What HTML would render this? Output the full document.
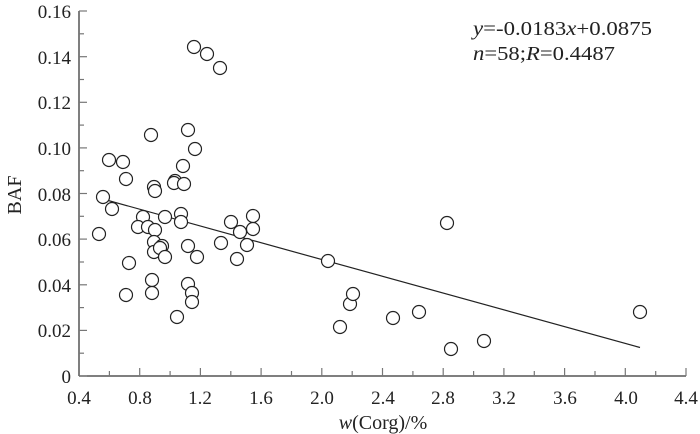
<!DOCTYPE html>
<html><head><style>body{margin:0;background:#fff}svg{display:block}</style></head>
<body>
<svg width="700" height="434" viewBox="0 0 700 434" xmlns="http://www.w3.org/2000/svg" font-family="Liberation Serif, serif" font-size="19" fill="#222">
<g stroke="#555" stroke-width="1.5" fill="none">
<line x1="79" y1="11" x2="79" y2="376"/>
<line x1="79" y1="376" x2="686" y2="376"/>
</g>
<g stroke="#777" stroke-width="1.2">
<line x1="79" y1="376" x2="87" y2="376"/><line x1="79" y1="353.2" x2="84" y2="353.2"/>
<line x1="79" y1="330.4" x2="87" y2="330.4"/><line x1="79" y1="307.6" x2="84" y2="307.6"/>
<line x1="79" y1="284.8" x2="87" y2="284.8"/><line x1="79" y1="262" x2="84" y2="262"/>
<line x1="79" y1="239.1" x2="87" y2="239.1"/><line x1="79" y1="216.3" x2="84" y2="216.3"/>
<line x1="79" y1="193.5" x2="87" y2="193.5"/><line x1="79" y1="170.7" x2="84" y2="170.7"/>
<line x1="79" y1="147.9" x2="87" y2="147.9"/><line x1="79" y1="125.1" x2="84" y2="125.1"/>
<line x1="79" y1="102.3" x2="87" y2="102.3"/><line x1="79" y1="79.5" x2="84" y2="79.5"/>
<line x1="79" y1="56.7" x2="87" y2="56.7"/><line x1="79" y1="33.8" x2="84" y2="33.8"/>
<line x1="79" y1="11" x2="87" y2="11"/>
<line x1="109.4" y1="376" x2="109.4" y2="371"/><line x1="139.7" y1="376" x2="139.7" y2="368"/>
<line x1="170.1" y1="376" x2="170.1" y2="371"/><line x1="200.4" y1="376" x2="200.4" y2="368"/>
<line x1="230.8" y1="376" x2="230.8" y2="371"/><line x1="261.1" y1="376" x2="261.1" y2="368"/>
<line x1="291.5" y1="376" x2="291.5" y2="371"/><line x1="321.8" y1="376" x2="321.8" y2="368"/>
<line x1="352.2" y1="376" x2="352.2" y2="371"/><line x1="382.5" y1="376" x2="382.5" y2="368"/>
<line x1="412.9" y1="376" x2="412.9" y2="371"/><line x1="443.2" y1="376" x2="443.2" y2="368"/>
<line x1="473.6" y1="376" x2="473.6" y2="371"/><line x1="503.9" y1="376" x2="503.9" y2="368"/>
<line x1="534.3" y1="376" x2="534.3" y2="371"/><line x1="564.6" y1="376" x2="564.6" y2="368"/>
<line x1="595" y1="376" x2="595" y2="371"/><line x1="625.3" y1="376" x2="625.3" y2="368"/>
<line x1="655.7" y1="376" x2="655.7" y2="371"/><line x1="686" y1="376" x2="686" y2="368"/>
</g>
<g text-anchor="end">
<text x="71" y="383">0</text><text x="71" y="337">0.02</text><text x="71" y="292">0.04</text>
<text x="71" y="246">0.06</text><text x="71" y="201">0.08</text><text x="71" y="155">0.10</text>
<text x="71" y="109">0.12</text><text x="71" y="64">0.14</text><text x="71" y="18">0.16</text>
</g>
<g text-anchor="middle">
<text x="79" y="404">0.4</text><text x="140" y="404">0.8</text><text x="200" y="404">1.2</text>
<text x="261" y="404">1.6</text><text x="322" y="404">2.0</text><text x="383" y="404">2.4</text>
<text x="443" y="404">2.8</text><text x="504" y="404">3.2</text><text x="565" y="404">3.6</text>
<text x="626" y="404">4.0</text><text x="686" y="404">4.4</text>
<text x="383" y="429" font-size="20"><tspan font-style="italic">w</tspan>(Corg)/%</text>
<text transform="translate(21,195) rotate(-90)" font-size="20">BAF</text>
</g>
<text x="473" y="35" font-size="20" textLength="179" lengthAdjust="spacingAndGlyphs"><tspan font-style="italic">y</tspan>=-0.0183<tspan font-style="italic">x</tspan>+0.0875</text>
<text x="473" y="60" font-size="20" textLength="142" lengthAdjust="spacingAndGlyphs"><tspan font-style="italic">n</tspan>=58;<tspan font-style="italic">R</tspan>=0.4487</text>
<line x1="101" y1="198.5" x2="640" y2="347.5" stroke="#222" stroke-width="1.2"/>
<g fill="#fff" stroke="#222" stroke-width="1.2">
<circle cx="109" cy="160" r="6.5"/><circle cx="123" cy="162" r="6.5"/><circle cx="126" cy="179" r="6.5"/>
<circle cx="154" cy="187" r="6.5"/><circle cx="155" cy="191" r="6.5"/><circle cx="103" cy="197" r="6.5"/>
<circle cx="112" cy="209" r="6.5"/><circle cx="99" cy="234" r="6.5"/><circle cx="143" cy="217" r="6.5"/>
<circle cx="138" cy="227" r="6.5"/><circle cx="148" cy="227" r="6.5"/><circle cx="155" cy="230" r="6.5"/>
<circle cx="165" cy="217" r="6.5"/><circle cx="181" cy="214" r="6.5"/><circle cx="181" cy="222" r="6.5"/>
<circle cx="154" cy="242" r="6.5"/><circle cx="162" cy="246" r="6.5"/><circle cx="154" cy="252" r="6.5"/>
<circle cx="160" cy="248" r="6.5"/><circle cx="165" cy="257" r="6.5"/><circle cx="129" cy="263" r="6.5"/>
<circle cx="126" cy="295" r="6.5"/><circle cx="152" cy="280" r="6.5"/><circle cx="152" cy="293" r="6.5"/>
<circle cx="177" cy="317" r="6.5"/><circle cx="183" cy="166" r="6.5"/><circle cx="175" cy="181" r="6.5"/>
<circle cx="174" cy="183" r="6.5"/><circle cx="184" cy="184" r="6.5"/><circle cx="195" cy="149" r="6.5"/>
<circle cx="188" cy="246" r="6.5"/><circle cx="197" cy="257" r="6.5"/><circle cx="188" cy="284" r="6.5"/>
<circle cx="192" cy="293" r="6.5"/><circle cx="192" cy="302" r="6.5"/><circle cx="221" cy="243" r="6.5"/>
<circle cx="231" cy="222" r="6.5"/><circle cx="240" cy="232" r="6.5"/><circle cx="253" cy="216" r="6.5"/>
<circle cx="253" cy="229" r="6.5"/><circle cx="247" cy="245" r="6.5"/><circle cx="237" cy="259" r="6.5"/>
<circle cx="151" cy="135" r="6.5"/><circle cx="188" cy="130" r="6.5"/>
<circle cx="194" cy="47" r="6.5"/><circle cx="207" cy="54" r="6.5"/><circle cx="220" cy="68" r="6.5"/>
<circle cx="328" cy="261" r="6.5"/><circle cx="340" cy="327" r="6.5"/><circle cx="350" cy="304" r="6.5"/>
<circle cx="353" cy="294" r="6.5"/><circle cx="393" cy="318" r="6.5"/><circle cx="419" cy="312" r="6.5"/>
<circle cx="447" cy="223" r="6.5"/><circle cx="451" cy="349" r="6.5"/><circle cx="484" cy="341" r="6.5"/>
<circle cx="640" cy="312" r="6.5"/>
</g>
</svg>
</body></html>
